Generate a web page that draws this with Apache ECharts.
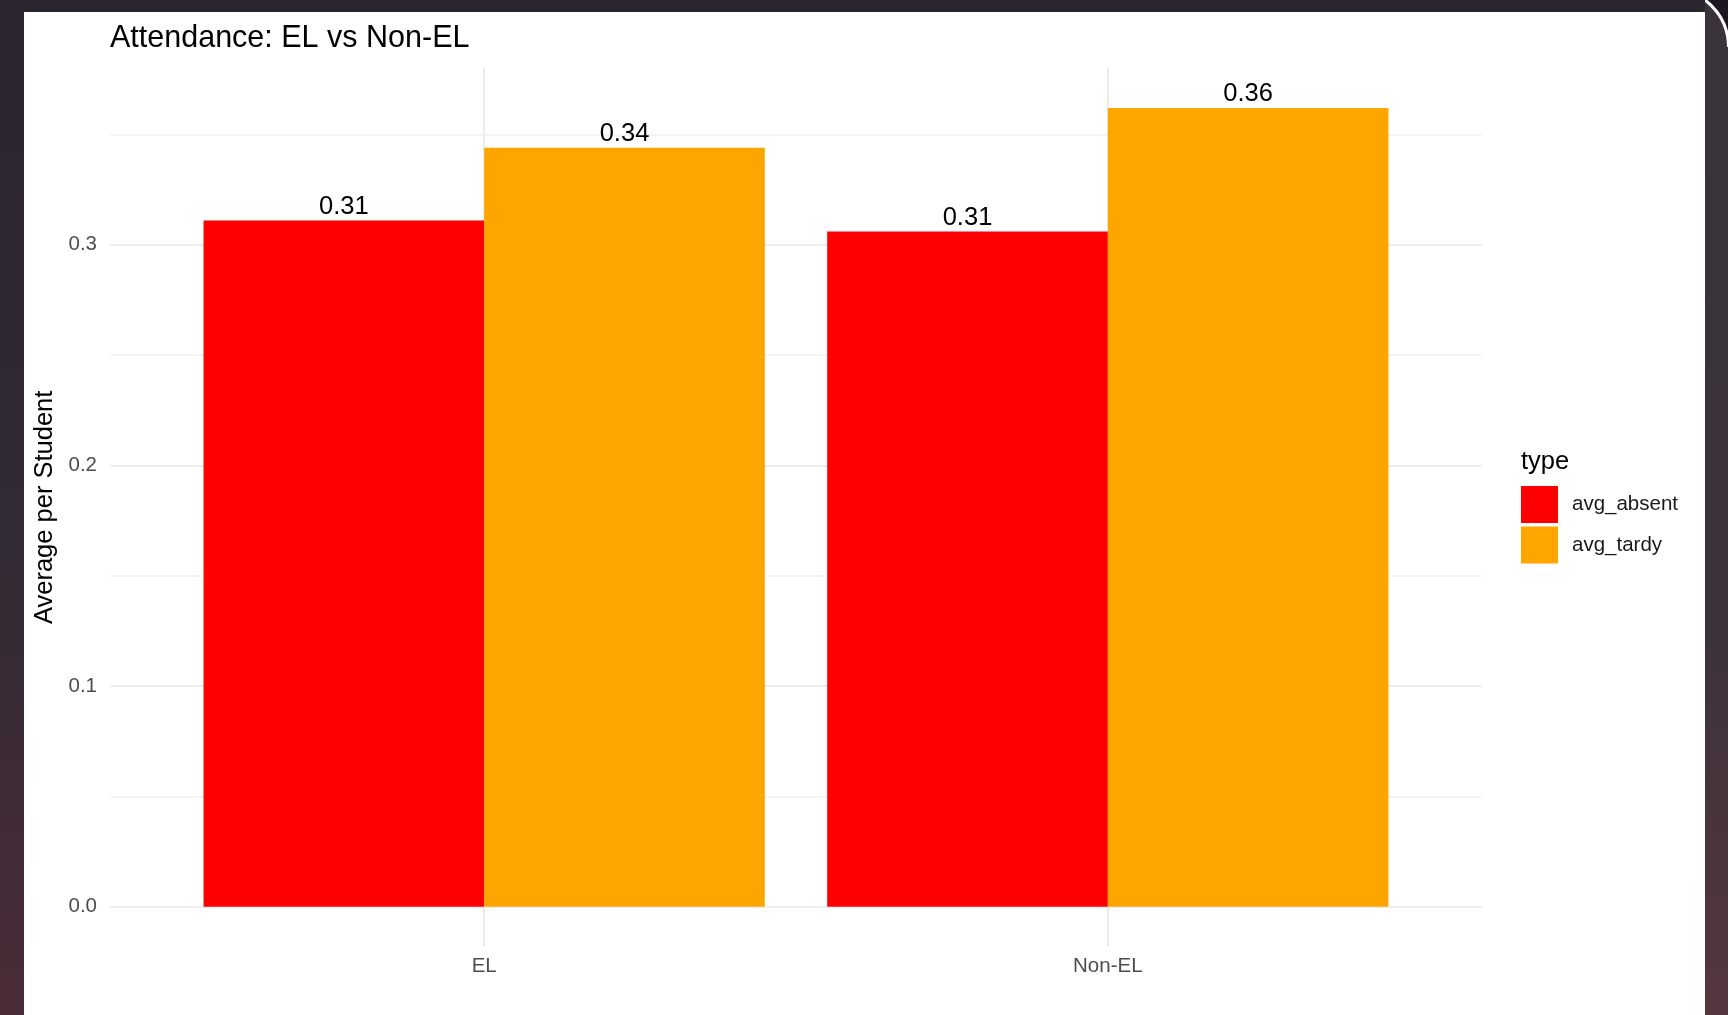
<!DOCTYPE html>
<html>
<head>
<meta charset="utf-8">
<title>Attendance: EL vs Non-EL</title>
<script src="https://cdn.jsdelivr.net/npm/echarts@6/dist/echarts.min.js"></script>
<style>
html, body { margin: 0; padding: 0; width: 1728px; height: 1015px; overflow: hidden; }
body { position: relative; background: linear-gradient(180deg, #2b2530 0%, #322a34 55%, #4a2c38 100%); }
#side { position: absolute; left: 1705px; top: 0; width: 23px; height: 1015px;
        background: linear-gradient(180deg, #3a333b 0%, #3b323b 60%, #55363f 100%); }
#corner { position: absolute; left: 1705px; top: 0; width: 23px; height: 47px; overflow: hidden; background: #1b1620; }
#corner div { position: absolute; left: -95px; top: -13px; width: 120px; height: 120px; box-sizing: border-box;
              border-radius: 50%; border: 3px solid #fff; background: #3a333b; }
#panel { position: absolute; left: 24px; top: 12px; width: 1681px; height: 1003px; background: #fff; }
#chart { position: absolute; left: 0; top: 0; width: 1728px; height: 1015px; }
</style>
</head>
<body>
<div id="side"></div>
<div id="corner"><div></div></div>
<div id="panel"></div>
<div id="chart"></div>
<script>
// data
var categories = ['EL', 'Non-EL'];
var seriesNames = ['avg_absent', 'avg_tardy'];
var absentValues = [0.311, 0.306];
var tardyValues = [0.344, 0.362];
var colors = ['#FF0000', '#FFA500'];

// ggplot style padding: 5% on y, 0.6 category units on x
var maxVal = Math.max.apply(null, absentValues.concat(tardyValues));
var yMin = -0.05 * maxVal;
var yMax = maxVal * 1.05;

function pairs(vals) {
    var out = [];
    for (var i = 0; i < vals.length; i++) {
        out.push([i + 1, vals[i]]);
    }
    return out;
}

var FONT = 'Liberation Sans';
var chart = echarts.init(document.getElementById('chart'), null, {renderer: 'canvas'});

function barSeries(name, vals, color) {
    return {
        name: name,
        type: 'bar',
        data: pairs(vals),
        xAxisIndex: 0,
        yAxisIndex: 0,
        barGap: '0%',
        barCategoryGap: '10%',
        itemStyle: {color: color},
        label: {
            show: true,
            position: 'top',
            distance: 1,
            color: '#000',
            fontFamily: FONT,
            fontSize: 25.5,
            formatter: function (p) { return p.value[1].toFixed(2); }
        },
        emphasis: {disabled: true}
    };
}

var option = {
    animation: false,
    backgroundColor: 'transparent',
    title: [
        {
            text: 'Attendance: EL vs Non-EL',
            left: 110,
            top: 23,
            padding: 0,
            textStyle: {fontFamily: FONT, fontSize: 30.5, fontWeight: 'normal', color: '#000'}
        },
        {
            text: 'type',
            left: 1521,
            top: 449,
            padding: 0,
            textStyle: {fontFamily: FONT, fontSize: 25.5, fontWeight: 'normal', color: '#000'}
        }
    ],
    legend: {
        data: seriesNames,
        orient: 'vertical',
        left: 1521,
        top: 486,
        padding: 0,
        icon: 'rect',
        itemWidth: 37,
        itemHeight: 37,
        itemGap: 3.5,
        selectedMode: false,
        textStyle: {fontFamily: FONT, fontSize: 20.5, color: '#1a1a1a', padding: [0, 0, 0, 9]}
    },
    grid: {left: 110, right: 246, top: 68, bottom: 68.3},
    xAxis: {
        type: 'value',
        min: 0.4,
        max: 2.6,
        minInterval: 1,
        maxInterval: 1,
        axisLine: {show: false},
        axisTick: {show: false},
        axisLabel: {
            margin: 9,
            showMinLabel: false,
            showMaxLabel: false,
            fontFamily: FONT,
            fontSize: 20.5,
            color: '#4d4d4d',
            formatter: function (v) {
                var r = Math.round(v);
                return (Math.abs(v - r) < 1e-6 && categories[r - 1]) ? categories[r - 1] : '';
            }
        },
        splitLine: {show: true, showMinLine: false, showMaxLine: false, lineStyle: {color: '#ebebeb', width: 2}}
    },
    yAxis: [
        {
            type: 'value',
            min: yMin,
            max: yMax,
            minInterval: 0.1,
            maxInterval: 0.1,
            name: 'Average per Student',
            nameLocation: 'middle',
            nameRotate: 90,
            nameGap: 44.5,
            nameTextStyle: {fontFamily: FONT, fontSize: 25.5, color: '#000'},
            axisLine: {show: false},
            axisTick: {show: false},
            axisLabel: {
                margin: 13,
                showMinLabel: false,
                showMaxLabel: false,
                fontFamily: FONT,
                fontSize: 20.5,
                color: '#4d4d4d',
                formatter: function (v) {
                    return Math.abs(v * 10 - Math.round(v * 10)) < 1e-6 ? v.toFixed(1) : '';
                }
            },
            splitLine: {show: true, showMinLine: false, showMaxLine: false, lineStyle: {color: '#ebebeb', width: 2}}
        },
        {
            type: 'value',
            min: yMin,
            max: yMax,
            minInterval: 0.05,
            maxInterval: 0.05,
            position: 'left',
            axisLine: {show: false},
            axisTick: {show: false},
            axisLabel: {show: false},
            splitLine: {show: true, showMinLine: false, showMaxLine: false, lineStyle: {color: '#f0f0f0', width: 1.5}}
        }
    ],
    series: [
        barSeries(seriesNames[0], absentValues, colors[0]),
        barSeries(seriesNames[1], tardyValues, colors[1])
    ]
};

chart.setOption(option);
</script>
</body>
</html>
